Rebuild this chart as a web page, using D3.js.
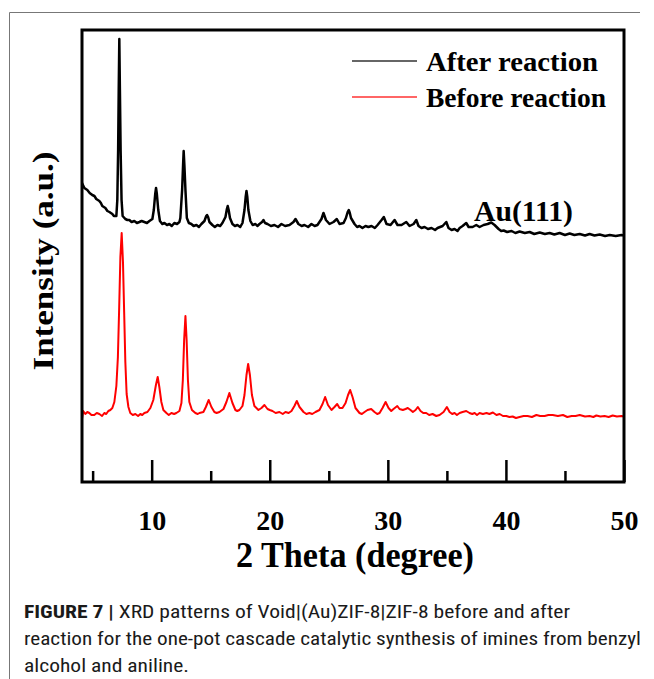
<!DOCTYPE html>
<html>
<head>
<meta charset="utf-8">
<script src="https://cdn.jsdelivr.net/npm/d3@7/dist/d3.min.js"></script>
<style>
  html, body { margin: 0; padding: 0; background: #fff; }
  svg { display: block; }
</style>
</head>
<body>
<svg id="chart" width="654" height="679"></svg>
<script>
// ---- Data ----
const seriesNames = ["After reaction", "Before reaction"];
const seriesColors = ["#000000", "#ff0000"];
const majorTicks = [10, 20, 30, 40, 50];
const minorTicks = [5, 15, 25, 35, 45];
const xLabel = "2 Theta (degree)";
const yLabel = "Intensity (a.u.)";
const annotation = { text: "Au(111)", theta: 38.76 };

// [2θ (degree), intensity (a.u.)]
const afterReaction = [
[4.1,299],[4.30,294],[4.55,292],[4.75,289],[4.97,287],[5.15,286],[5.31,283],[5.57,281],[5.70,279],[5.82,276],[6.08,274],[6.25,271],[6.42,270],[6.67,268],[6.80,266],[6.92,266],
[7.01,266],[7.09,282],[7.16,332],[7.21,392],[7.26,443],[7.31,392],[7.37,332],[7.45,282],[7.54,266],
[7.77,263],[7.95,262],[8.11,262],[8.30,260],[8.53,261],[8.75,259],[8.96,260],[9.15,261],[9.38,260],[9.60,259],[9.81,261],[10.06,263],[10.18,272],[10.30,288],[10.37,294],[10.44,288],[10.56,272],[10.70,261],[10.9,258],[11.08,259],[11.30,257],[11.50,258],[11.70,256],[11.92,259],[12.15,258],[12.35,260],
[12.43,264],[12.58,292],[12.66,317],[12.71,331],[12.77,317],[12.86,292],[12.98,264],
[13.15,259],[13.36,258],[13.55,256],[13.79,257],[14.0,255],[14.21,258],[14.47,261],[14.62,266],[14.69,267],[14.78,265],[14.89,260],[15.14,257],[15.35,255],[15.57,257],[15.8,256],[15.99,259],[16.25,265],[16.37,273],[16.44,276],[16.52,272],[16.63,264],[16.84,258],[17.05,256],[17.26,257],[17.5,255],[17.69,259],[17.86,272],[17.96,285],[18.03,291],[18.10,285],[18.19,272],[18.36,261],[18.55,257],[18.79,258],[18.95,256],[19.13,258],[19.35,260],[19.47,262],[19.6,259],[19.81,258],[20.1,256],[20.40,257],[20.7,255],[20.99,258],[21.3,256],[21.67,257],[22.01,260],[22.18,263],[22.43,258],[22.7,256],[22.94,257],[23.25,255],[23.53,258],[23.8,256],[24.04,257],[24.38,263],[24.55,269],[24.76,262],[25.06,258],[25.40,260],[25.68,263],[25.91,258],[26.25,259],[26.45,264],[26.60,270],[26.69,272],[26.78,269],[26.88,264],[27.18,258],[27.4,255],[27.60,256],[27.85,254],[28.11,256],[28.35,255],[28.62,256],[28.9,254],[29.13,257],[29.47,262],[29.66,265],[29.89,258],[30.23,257],[30.57,262],[30.82,257],[31.16,257],[31.56,260],[31.84,256],[32.18,258],[32.41,262],[32.60,256],[32.85,254],[33.11,255],[33.4,253],[33.70,254],[34.0,252],[34.21,254],[34.64,256],[34.95,260],[35.14,254],[35.4,252],[35.65,253],[35.9,251],[36.08,254],[36.33,256],[36.64,259],[36.84,255],[37.18,255],[37.49,257],[37.77,255],[38.11,257],[38.45,258],[38.76,259.5],[39.04,257],[39.38,253],[39.6,251],[39.81,251.5],[40.1,250],[40.48,251],[40.8,249],[41.16,250.5],[41.6,249],[42.01,250],[42.4,248],[42.86,249.5],[43.3,248],[43.70,249],[44.1,247.5],[44.55,249],[45.0,247],[45.40,248.5],[45.8,247],[46.25,248],[46.7,246.5],[47.09,248],[47.5,246.5],[47.94,247.5],[48.4,246],[48.79,247],[49.3,246],[49.78,247],[50,246.5]
];

const beforeReaction = [
[4.1,63],[4.2,71],[4.38,68],[4.55,70],[4.72,69],[4.9,67],[5.14,67],[5.35,69],[5.57,68],[5.8,66],[5.99,69],[6.15,68],[6.33,71],[6.5,72],[6.67,74],[6.84,80],[7.01,96],[7.14,125],[7.25,175],[7.35,225],[7.46,249],[7.57,220],[7.67,170],[7.77,120],[7.88,88],[8.03,75],[8.19,69],[8.4,67],[8.62,68],[8.85,66],[9.04,68],[9.2,67],[9.38,69],[9.64,70],[9.89,74],[10.14,82],[10.36,97],[10.51,105],[10.65,95],[10.82,80],[10.99,72],[11.25,69],[11.45,67],[11.67,69],[11.9,68],[12.09,69],[12.35,71],[12.52,79],[12.64,102],[12.75,142],[12.86,166],[12.96,142],[13.07,102],[13.19,80],[13.41,72],[13.70,69],[13.9,68],[14.04,69],[14.38,70],[14.59,75],[14.83,82],[15.06,75],[15.31,70],[15.5,69],[15.74,70],[16.08,73],[16.33,80],[16.58,89],[16.84,79],[17.09,72],[17.25,71],[17.43,72],[17.69,76],[17.86,87],[18.03,107],[18.17,118],[18.32,107],[18.49,87],[18.70,76],[19.04,72],[19.30,74],[19.55,77],[19.81,73],[20.0,72],[20.23,71],[20.5,69],[20.82,70],[21.1,68],[21.33,70],[21.6,69],[21.84,71],[22.09,76],[22.29,81],[22.52,75],[22.86,70],[23.1,68],[23.36,69],[23.6,68],[23.87,70],[24.21,72],[24.47,78],[24.69,85],[24.93,77],[25.23,72],[25.48,75],[25.71,78],[25.91,74],[26.16,74],[26.42,79],[26.63,87],[26.81,92],[27.01,85],[27.26,74],[27.60,69],[27.8,68],[28.03,70],[28.28,72],[28.59,73],[28.87,70],[29.1,68],[29.30,69],[29.55,74],[29.81,80],[30.06,74],[30.29,71],[30.48,73],[30.80,76],[30.99,73],[31.27,72],[31.50,73],[31.69,74],[31.92,72],[32.12,70],[32.35,72],[32.54,75],[32.77,71],[33.0,69],[33.25,69],[33.5,67],[33.79,68],[34.1,66],[34.38,67],[34.72,70],[35.00,75],[35.23,70],[35.45,68],[35.65,69],[35.85,67],[36.08,69],[36.33,70],[36.64,71],[36.92,69],[37.15,68],[37.35,69],[37.55,67],[37.77,69],[38.05,68],[38.36,69],[38.6,68],[38.90,69.5],[39.2,67],[39.47,68],[39.75,66],[40.03,66],[40.3,65],[40.57,65.5],[40.85,64],[41.16,65],[41.5,66],[41.84,66],[42.2,65],[42.58,67],[42.9,66],[43.28,66],[43.6,67],[43.96,67],[44.4,66],[44.83,67],[45.2,65],[45.57,66],[45.9,66],[46.25,67],[46.7,65.5],[47.09,66],[47.4,65],[47.66,66.5],[48.0,65.5],[48.36,66],[48.7,65],[49.04,66.5],[49.4,65.5],[49.78,66],[50,65.5]
];

const captionBold = "FIGURE 7 | ";
const captionLines = [
  "XRD patterns of Void|(Au)ZIF-8|ZIF-8 before and after",
  "reaction for the one-pot cascade catalytic synthesis of imines from benzyl",
  "alcohol and aniline."
];

// ---- Drawing ----
const svg = d3.select("#chart");
const serif = "'Liberation Serif','Times New Roman',Times,serif";
const sans = "'Liberation Sans Narrow','Arial Narrow','Roboto Condensed','Liberation Sans',Arial,sans-serif";

const plot = { left: 82, right: 624, top: 30, bottom: 482 };
const x = d3.scaleLinear().domain([4.1, 50]).range([plot.left, plot.right]);
const y = d3.scaleLinear().domain([0, 452]).range([plot.bottom, plot.top]);

// Figure panel border (thin grey)
svg.append("line").attr("x1", 9.5).attr("x2", 640).attr("y1", 12.5).attr("y2", 12.5)
  .attr("stroke", "#777").attr("stroke-width", 1);
svg.append("line").attr("x1", 9.5).attr("x2", 9.5).attr("y1", 12.5).attr("y2", 679)
  .attr("stroke", "#777").attr("stroke-width", 1);

// Clip for the spectra
svg.append("clipPath").attr("id", "plotclip").append("rect")
  .attr("x", plot.left).attr("y", plot.top)
  .attr("width", plot.right - plot.left).attr("height", plot.bottom - plot.top);

const line = d3.line().x(d => x(d[0])).y(d => y(d[1]));
const gLines = svg.append("g").attr("clip-path", "url(#plotclip)");
gLines.append("path").datum(beforeReaction)
  .attr("d", line).attr("fill", "none")
  .attr("stroke", seriesColors[1]).attr("stroke-width", 2)
  .attr("stroke-linejoin", "round");
gLines.append("path").datum(afterReaction)
  .attr("d", line).attr("fill", "none")
  .attr("stroke", seriesColors[0]).attr("stroke-width", 2.5)
  .attr("stroke-linejoin", "round");

// Axis ticks (inward) and labels
const axisMajor = d3.axisBottom(x).tickValues(majorTicks)
  .tickSizeInner(-22).tickSizeOuter(0).tickPadding(28).tickFormat(d3.format("d"));
const gAx = svg.append("g").attr("transform", `translate(0,${plot.bottom})`).call(axisMajor);
gAx.select(".domain").remove();
gAx.selectAll(".tick line").attr("stroke", "#000").attr("stroke-width", 2.5);
gAx.selectAll(".tick text").attr("fill", "#000")
  .style("font-family", serif).style("font-weight", "bold").style("font-size", "28px");

const axisMinor = d3.axisBottom(x).tickValues(minorTicks)
  .tickSizeInner(-11).tickSizeOuter(0).tickFormat("");
const gAxm = svg.append("g").attr("transform", `translate(0,${plot.bottom})`).call(axisMinor);
gAxm.select(".domain").remove();
gAxm.selectAll(".tick line").attr("stroke", "#000").attr("stroke-width", 2.5);

// Frame
svg.append("rect")
  .attr("x", plot.left).attr("y", plot.top)
  .attr("width", plot.right - plot.left).attr("height", plot.bottom - plot.top)
  .attr("fill", "none").attr("stroke", "#000").attr("stroke-width", 3);

// Axis titles
svg.append("text").attr("x", 355).attr("y", 567).attr("text-anchor", "middle")
  .attr("textLength", 238).attr("lengthAdjust", "spacingAndGlyphs")
  .style("font-family", serif).style("font-weight", "bold").style("font-size", "35px")
  .text(xLabel);
svg.append("text").attr("transform", "translate(53,261) rotate(-90)")
  .attr("text-anchor", "middle")
  .attr("textLength", 219).attr("lengthAdjust", "spacingAndGlyphs")
  .style("font-family", serif).style("font-weight", "bold").style("font-size", "30px")
  .text(yLabel);

// Annotation
svg.append("text").attr("x", 474).attr("y", 221)
  .attr("textLength", 99).attr("lengthAdjust", "spacingAndGlyphs")
  .style("font-family", serif).style("font-weight", "bold").style("font-size", "29px")
  .text(annotation.text);

// Legend
const legendY = [61, 97];
const legendW = [172, 180];
seriesNames.forEach((name, i) => {
  svg.append("line").attr("x1", 352).attr("x2", 417)
    .attr("y1", legendY[i]).attr("y2", legendY[i])
    .attr("stroke", i === 0 ? "#333" : "#ff3333").attr("stroke-width", 1.6);
  svg.append("text").attr("x", 426).attr("y", legendY[i] + 10)
    .attr("textLength", legendW[i]).attr("lengthAdjust", "spacingAndGlyphs")
    .style("font-family", serif).style("font-weight", "bold").style("font-size", "28px")
    .text(name);
});

// Caption
const capBase = [618, 645, 672];
const capW = [546, 617, 165];
captionLines.forEach((t, i) => {
  const tx = svg.append("text").attr("x", 24).attr("y", capBase[i])
    .attr("textLength", capW[i]).attr("lengthAdjust", "spacingAndGlyphs")
    .attr("fill", "#1a1a1a")
    .style("font-family", sans).style("font-size", "18px");
  if (i === 0) {
    tx.append("tspan").style("font-weight", "bold").text(captionBold);
  }
  tx.append("tspan").text(t);
});
</script>
</body>
</html>
